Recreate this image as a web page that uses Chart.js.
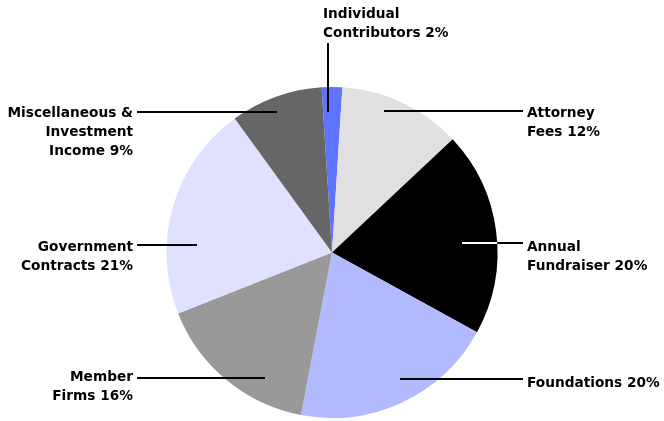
<!DOCTYPE html>
<html>
<head>
<meta charset="utf-8">
<script src="https://cdn.jsdelivr.net/npm/chart.js@4"></script>
<style>
  html, body { margin: 0; padding: 0; background: #fff; }
  #myChart { display: block; }
</style>
</head>
<body>
<canvas id="myChart" width="664" height="421"></canvas>
<script>
const categories = [
  'Individual Contributors',
  'Attorney Fees',
  'Annual Fundraiser',
  'Foundations',
  'Member Firms',
  'Government Contracts',
  'Miscellaneous & Investment Income'
];
const shares = [2, 12, 20, 20, 16, 21, 9];
// label text, split into lines; the percentage is added to the last line
const labelLines = [
  ['Individual', 'Contributors'],
  ['Attorney', 'Fees'],
  ['Annual', 'Fundraiser'],
  ['Foundations'],
  ['Member', 'Firms'],
  ['Government', 'Contracts'],
  ['Miscellaneous &', 'Investment', 'Income']
];
const colors = ['#6073ff', '#e0e0e0', '#000000', '#b2baff', '#999999', '#e0e0ff', '#666666'];

// where each label and its leader line sit
const labelLayout = [
  { align: 'left',  x: 323, y: 18,  vertical: true, lx: 328, ly1: 43, ly2: 112 },
  { align: 'left',  x: 527, y: 117, ly: 111, lx1: 384, lx2: 523 },
  { align: 'left',  x: 527, y: 251, ly: 243, lx1: 462, lx2: 523 },
  { align: 'left',  x: 527, y: 387, ly: 379, lx1: 400, lx2: 523 },
  { align: 'right', x: 133, y: 381, ly: 378, lx1: 265, lx2: 137 },
  { align: 'right', x: 133, y: 251, ly: 245, lx1: 197, lx2: 137 },
  { align: 'right', x: 133, y: 117, ly: 112, lx1: 277, lx2: 137 }
];
const lineHeight = 19;

const leaderLabels = {
  id: 'leaderLabels',
  afterDatasetsDraw(chart) {
    const ctx = chart.ctx;
    const meta = chart.getDatasetMeta(0);
    ctx.save();
    ctx.font = 'bold 13.7px "DejaVu Sans", Verdana, sans-serif';
    ctx.textBaseline = 'alphabetic';
    ctx.fillStyle = '#000';
    ctx.lineWidth = 2;
    meta.data.forEach((arc, i) => {
      const L = labelLayout[i];
      const lines = labelLines[i].slice();
      lines[lines.length - 1] += ' ' + shares[i] + '%';
      ctx.textAlign = L.align;
      lines.forEach((t, k) => ctx.fillText(t, L.x, L.y + k * lineHeight));

      ctx.strokeStyle = '#000';
      ctx.beginPath();
      if (L.vertical) {
        ctx.moveTo(L.lx, L.ly1);
        ctx.lineTo(L.lx, L.ly2);
      } else {
        ctx.moveTo(L.lx1, L.ly);
        ctx.lineTo(L.lx2, L.ly);
      }
      ctx.stroke();

      // part of the leader lying over a black slice is drawn white
      if (!L.vertical && colors[i] === '#000000') {
        const dy = L.ly - arc.y;
        const half = Math.sqrt(Math.max(0, arc.outerRadius * arc.outerRadius - dy * dy));
        const edge = L.align === 'left' ? arc.x + half : arc.x - half;
        ctx.strokeStyle = '#fff';
        ctx.beginPath();
        ctx.moveTo(L.lx1, L.ly);
        ctx.lineTo(edge, L.ly);
        ctx.stroke();
      }
    });
    ctx.restore();
  }
};

const data = {
  labels: categories,
  datasets: [{
    data: shares,
    backgroundColor: colors,
    borderWidth: 0
  }]
};

const config = {
  type: 'pie',
  data: data,
  options: {
    responsive: false,
    animation: false,
    devicePixelRatio: 1,
    rotation: -3.6,
    layout: {
      padding: { top: 87, bottom: 3, left: 166, right: 166 }
    },
    plugins: {
      legend: { display: false },
      tooltip: { enabled: false }
    }
  },
  plugins: [leaderLabels]
};

const myChart = new Chart(
  document.getElementById('myChart'),
  config
);
</script>
</body>
</html>
